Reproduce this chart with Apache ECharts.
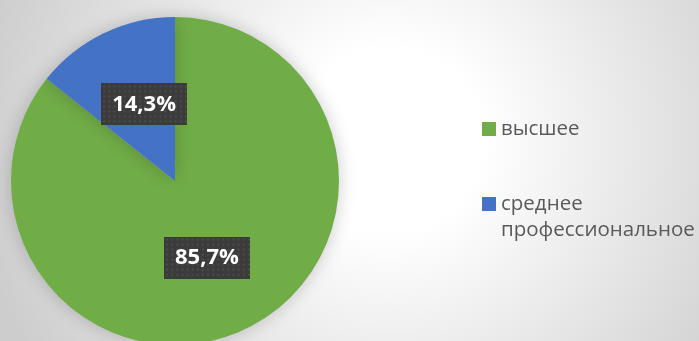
<!DOCTYPE html>
<html>
<head>
<meta charset="utf-8">
<script src="https://cdn.jsdelivr.net/npm/echarts@6/dist/echarts.min.js"></script>
<style>
  html, body { margin: 0; padding: 0; }
  #chart { width: 699px; height: 341px; }
</style>
</head>
<body>
<div id="chart"></div>
<script>
// Education level shares, percent
const categories = ['высшее', 'среднее профессиональное'];
const shares = [85.7, 14.3];
const colors = ['#70AD47', '#4472C4'];

// Legend captions; the leading blank line keeps the marker beside the first word
const legendNames = {
  'высшее': 'высшее',
  'среднее профессиональное': ' \nсреднее\nпрофессиональное'
};

// Dark dotted texture for the data label boxes
function dottedTile(w, h) {
  const c = document.createElement('canvas');
  c.width = w; c.height = h;
  const ctx = c.getContext('2d');
  ctx.fillStyle = '#3b3b3b';
  ctx.fillRect(0, 0, w, h);
  ctx.fillStyle = '#4b4b4b';
  for (let y = 2; y < h; y += 5) {
    for (let x = 2; x < w; x += 5) {
      ctx.fillRect(x, y, 2, 2);
    }
  }
  return c;
}
const labelTile = dottedTile(84, 42);

const chart = echarts.init(document.getElementById('chart'));

const legendText = {
  color: '#595959',
  fontFamily: 'Open Sans',
  fontSize: 20.5,
  lineHeight: 26
};

chart.setOption({
  animation: false,
  backgroundColor: {
    type: 'radial', x: 390, y: 140, r: 420, global: true,
    colorStops: [
      { offset: 0, color: '#ffffff' },
      { offset: 0.22, color: '#ffffff' },
      { offset: 1, color: '#cdcdcd' }
    ]
  },
  legend: [
    {
      data: [categories[0]],
      left: 482, top: 116, padding: 0,
      itemWidth: 14, itemHeight: 14,
      icon: 'rect',
      formatter: n => legendNames[n],
      textStyle: legendText
    },
    {
      data: [categories[1]],
      left: 482, top: 165, padding: 0,
      itemWidth: 14, itemHeight: 14,
      icon: 'rect',
      formatter: n => legendNames[n],
      textStyle: legendText
    }
  ],
  series: [{
    type: 'pie',
    center: [175, 181],
    radius: 164,
    startAngle: 90,
    clockwise: true,
    data: categories.map((c, i) => ({
      name: c, value: shares[i], itemStyle: { color: colors[i] }
    })),
    itemStyle: {
      shadowBlur: 18,
      shadowColor: 'rgba(0,0,0,0.2)'
    },
    emphasis: { disabled: true },
    label: {
      position: 'inside',
      formatter: p => p.value.toFixed(1).replace('.', ',') + '%',
      color: '#ffffff',
      fontFamily: 'Open Sans',
      fontWeight: 'bold',
      fontSize: 22,
      lineHeight: 24,
      backgroundColor: { image: labelTile },
      padding: [9, 11],
      shadowBlur: 4,
      shadowOffsetX: 2,
      shadowOffsetY: 2,
      shadowColor: 'rgba(0,0,0,0.45)'
    },
    labelLayout: p => ({ dx: p.dataIndex === 1 ? 6 : -5 }),
    labelLine: { show: false }
  }]
});
</script>
</body>
</html>
